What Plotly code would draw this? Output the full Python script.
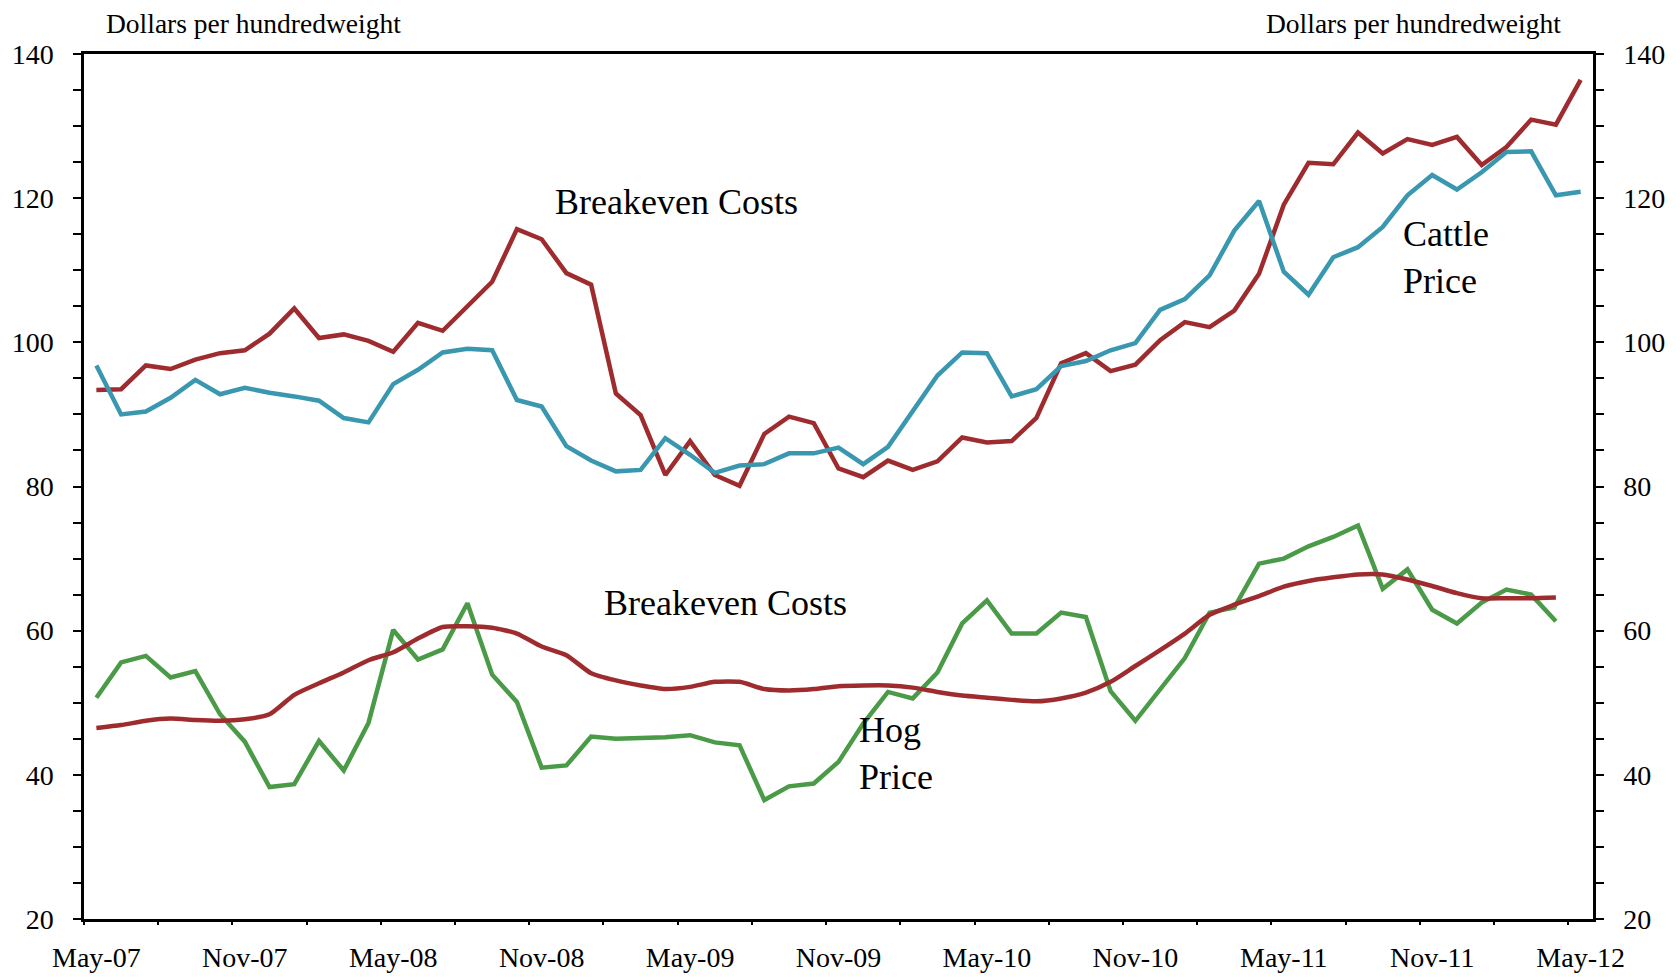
import plotly.graph_objects as go

months = ["May-07","Jun-07","Jul-07","Aug-07","Sep-07","Oct-07","Nov-07","Dec-07","Jan-08","Feb-08","Mar-08","Apr-08",
          "May-08","Jun-08","Jul-08","Aug-08","Sep-08","Oct-08","Nov-08","Dec-08","Jan-09","Feb-09","Mar-09","Apr-09",
          "May-09","Jun-09","Jul-09","Aug-09","Sep-09","Oct-09","Nov-09","Dec-09","Jan-10","Feb-10","Mar-10","Apr-10",
          "May-10","Jun-10","Jul-10","Aug-10","Sep-10","Oct-10","Nov-10","Dec-10","Jan-11","Feb-11","Mar-11","Apr-11",
          "May-11","Jun-11","Jul-11","Aug-11","Sep-11","Oct-11","Nov-11","Dec-11","Jan-12","Feb-12","Mar-12","Apr-12",
          "May-12"]

cattle_breakeven = [93.4, 93.5, 96.8, 96.3, 97.6, 98.5, 98.9, 101.2, 104.7, 100.6, 101.1, 100.2,
                    98.7, 102.7, 101.6, 105.0, 108.4, 115.7, 114.3, 109.6, 108.0, 92.9, 89.9, 81.6,
                    86.3, 81.6, 80.1, 87.3, 89.7, 88.8, 82.5, 81.3, 83.6, 82.3, 83.5, 86.8,
                    86.1, 86.3, 89.5, 97.1, 98.5, 96.0, 96.9, 100.3, 102.8, 102.1, 104.4, 109.5,
                    119.1, 124.9, 124.7, 129.1, 126.2, 128.2, 127.4, 128.5, 124.6, 127.1, 130.9, 130.2,
                    136.4]

cattle_price = [96.8, 90.0, 90.4, 92.3, 94.8, 92.8, 93.7, 93.0, 92.5, 91.9, 89.5, 88.9,
                94.2, 96.2, 98.6, 99.1, 98.9, 92.0, 91.1, 85.6, 83.6, 82.1, 82.3, 86.7,
                84.4, 81.9, 82.9, 83.1, 84.6, 84.6, 85.4, 83.1, 85.5, 90.4, 95.4, 98.6,
                98.5, 92.5, 93.5, 96.7, 97.4, 98.9, 99.9, 104.5, 106.0, 109.3, 115.5, 119.6,
                109.8, 106.6, 111.8, 113.2, 116.0, 120.4, 123.2, 121.2, 123.6, 126.4, 126.5, 120.4,
                120.9]

hog_price = [50.7, 55.6, 56.5, 53.5, 54.4, 48.4, 44.6, 38.3, 38.7, 44.7, 40.6, 47.2,
             60.1, 56.0, 57.4, 63.8, 53.9, 50.1, 41.0, 41.3, 45.3, 45.0, 45.1, 45.2,
             45.5, 44.5, 44.1, 36.5, 38.4, 38.8, 41.8, 47.1, 51.5, 50.6, 54.2, 61.0,
             64.2, 59.6, 59.6, 62.5, 61.9, 51.6, 47.5, 51.9, 56.2, 62.5, 63.2, 69.3,
             70.0, 71.7, 73.0, 74.6, 65.8, 68.5, 62.9, 61.0, 63.9, 65.7, 65.0, 61.3]

hog_breakeven = [46.5, 46.9, 47.5, 47.8, 47.6, 47.5, 47.7, 48.4, 51.1, 52.7, 54.2, 55.9,
                 57.0, 58.9, 60.5, 60.6, 60.4, 59.6, 57.8, 56.6, 54.1, 53.1, 52.4, 51.9,
                 52.2, 52.9, 52.9, 51.9, 51.7, 51.9, 52.3, 52.4, 52.4, 52.1, 51.5, 51.0,
                 50.7, 50.4, 50.2, 50.6, 51.4, 52.9, 55.1, 57.3, 59.6, 62.2, 63.6, 64.8,
                 66.1, 66.9, 67.4, 67.8, 67.8, 67.1, 66.2, 65.2, 64.5, 64.5, 64.5, 64.6]

label_every = 6
y_ticks = [20, 40, 60, 80, 100, 120, 140]

RED = "#9E2C2F"
TEAL = "#3A97B0"
GREEN = "#4A9A48"
FONT = "Liberation Serif"
TICK_SIZE = 28
LW = 4.5

idx_all = list(range(len(months)))
fig = go.Figure()
fig.add_trace(go.Scatter(x=idx_all[:len(cattle_breakeven)], y=cattle_breakeven, mode="lines",
                         line=dict(color=RED, width=LW), name="Cattle breakeven"))
fig.add_trace(go.Scatter(x=idx_all[:len(cattle_price)], y=cattle_price, mode="lines",
                         line=dict(color=TEAL, width=LW), name="Cattle price"))
fig.add_trace(go.Scatter(x=idx_all[:len(hog_price)], y=hog_price, mode="lines",
                         line=dict(color=GREEN, width=LW), name="Hog price"))
fig.add_trace(go.Scatter(x=idx_all[:len(hog_breakeven)], y=hog_breakeven, mode="lines",
                         line=dict(color=RED, width=LW, shape="spline", smoothing=0.6), name="Hog breakeven"))
fig.add_trace(go.Scatter(x=[0], y=[20], yaxis="y2", mode="markers", marker=dict(opacity=0),
                         showlegend=False, hoverinfo="skip"))
fig.add_trace(go.Scatter(x=[0], y=[20], xaxis="x2", mode="markers", marker=dict(opacity=0),
                         showlegend=False, hoverinfo="skip"))

n = len(months)
xr = [-0.5, n - 0.5]
lab_idx = list(range(0, n, label_every))
bound = [v - 0.5 for v in range(0, n + 1, 6)]

fig.update_layout(
    template="none",
    width=1672, height=969,
    margin=dict(l=76, r=87, t=46, b=58, autoexpand=False),
    paper_bgcolor="white", plot_bgcolor="white",
    showlegend=False,
    font=dict(family=FONT, size=TICK_SIZE, color="black"),
    xaxis=dict(range=xr, tickmode="array", tickvals=lab_idx, ticktext=[months[i] for i in lab_idx],
               ticks="", showline=True, linecolor="black", linewidth=2.5, mirror=True,
               showgrid=False, zeroline=False, ticklabelstandoff=12, automargin=False,
               tickfont=dict(family=FONT, size=TICK_SIZE)),
    xaxis2=dict(range=xr, overlaying="x", side="bottom", tickmode="array",
                tickvals=bound, ticktext=[""] * len(bound),
                ticks="outside", ticklen=8, tickwidth=2, tickcolor="black",
                minor=dict(tickmode="linear", tick0=-0.5, dtick=3, ticks="outside", ticklen=5,
                           tickwidth=1.5, tickcolor="black"),
                showline=False, showgrid=False, zeroline=False, showticklabels=False, automargin=False),
    yaxis=dict(range=[20, 140], tickmode="array", tickvals=y_ticks, ticks="outside", ticklen=8,
               tickwidth=2, tickcolor="black", showline=True, linecolor="black", linewidth=2.5,
               showgrid=False, zeroline=False, ticklabelstandoff=14, automargin=False,
               minor=dict(tickmode="linear", tick0=20, dtick=5, ticks="outside", ticklen=8,
                          tickwidth=1.5, tickcolor="black", showgrid=False),
               tickfont=dict(family=FONT, size=TICK_SIZE)),
    yaxis2=dict(range=[20, 140], overlaying="y", side="right", tickmode="array", tickvals=y_ticks,
                ticks="outside", ticklen=8, tickwidth=2, tickcolor="black", showline=True,
                linecolor="black", linewidth=2.5, showgrid=False, zeroline=False, ticklabelstandoff=14,
                automargin=False,
                minor=dict(tickmode="linear", tick0=20, dtick=5, ticks="outside", ticklen=8,
                           tickwidth=1.5, tickcolor="black", showgrid=False),
                tickfont=dict(family=FONT, size=TICK_SIZE)),
)

ann_font = dict(family=FONT, size=36, color="black")
fig.add_annotation(x=18.45, y=119.5, xref="x", yref="y", text="Breakeven Costs", showarrow=False,
                   xanchor="left", yanchor="middle", font=ann_font)
fig.add_annotation(x=20.45, y=63.9, xref="x", yref="y", text="Breakeven Costs", showarrow=False,
                   xanchor="left", yanchor="middle", font=ann_font)
fig.add_annotation(x=30.75, y=43.0, xref="x", yref="y", text="Hog<br>Price", showarrow=False,
                   xanchor="left", yanchor="middle", align="left", font=ann_font)
fig.add_annotation(x=52.75, y=111.8, xref="x", yref="y", text="Cattle<br>Price", showarrow=False,
                   xanchor="left", yanchor="middle", align="left", font=ann_font)

fig.add_annotation(x=0.014, y=1.0355, xref="paper", yref="paper", text="Dollars per hundredweight",
                   showarrow=False, xanchor="left", yanchor="middle", borderpad=0,
                   font=dict(family=FONT, size=27.5, color="black"))
fig.add_annotation(x=0.9795, y=1.0355, xref="paper", yref="paper", text="Dollars per hundredweight",
                   showarrow=False, xanchor="right", yanchor="middle", borderpad=0,
                   font=dict(family=FONT, size=27.5, color="black"))

fig.write_html("out.html")
